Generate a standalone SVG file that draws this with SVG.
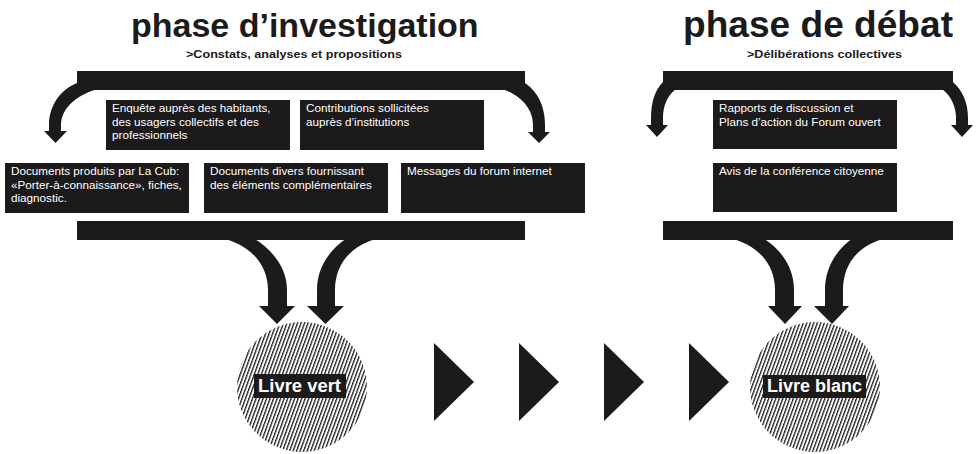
<svg xmlns="http://www.w3.org/2000/svg" width="979" height="454" viewBox="0 0 979 454">
<style>
.blk{fill:#1c1a1b}
.title{font-family:"Liberation Sans",Arial,sans-serif;font-weight:bold;fill:#1c1a1b}
.sub{font-family:"Liberation Sans",Arial,sans-serif;font-weight:bold;font-size:11.5px;fill:#1c1a1b}
.bt{font-family:"Liberation Sans",Arial,sans-serif;font-size:11.7px;fill:#ffffff}
.lbl{font-family:"Liberation Sans",Arial,sans-serif;font-weight:bold;font-size:18px;fill:#ffffff}
</style>
<defs>
<pattern id="hatch" patternUnits="userSpaceOnUse" width="3.3" height="10" patternTransform="rotate(20)">
<rect x="0" y="0" width="1.3" height="10" fill="#1c1a1b"/>
</pattern>
</defs>
<rect width="979" height="454" fill="#ffffff"/>

<g id="titles">
<text class="title" x="131" y="37" font-size="34">phase d’investigation</text>
<text class="sub" x="186" y="58" textLength="216" lengthAdjust="spacingAndGlyphs">&gt;Constats, analyses et propositions</text>
<text class="title" x="683" y="37" font-size="36.5" textLength="270" lengthAdjust="spacingAndGlyphs">phase de débat</text>
<text class="sub" x="747" y="58" textLength="155" lengthAdjust="spacingAndGlyphs">&gt;Délibérations collectives</text>
</g>

<g id="connectors">
<rect class="blk" x="77" y="71" width="448" height="19"/>
<rect class="blk" x="77" y="221" width="448" height="19"/>
<rect class="blk" x="663" y="71" width="290" height="19"/>
<rect class="blk" x="663" y="221" width="290" height="19"/>
<path class="blk" d="M77,83 C60,90 49,106 49,125 L49,131 L44,131 L55.5,143 L67,131 L61,131 L61,125 C61,110 74,96 97,89 L77,89 Z"/>
<path class="blk" d="M525,83 C538,92 545,106 545,125 L545,132 L550,132 L539,143 L528,132 L533,132 L533,125 C533,108 520,95 502,89 L525,89 Z"/>
<path class="blk" d="M663,82 C655,90 651,102 651,118 L651,125 L646,125 L657,137 L668,125 L663,125 L663,118 C663,106 667,96 676,89 L663,89 Z"/>
<path class="blk" d="M953,82 C962,90 968,102 968,118 L968,125 L973,125 L962,137 L951,125 L956,125 L956,118 C956,106 951,96 942,89 L953,89 Z"/>
<path class="blk" d="M220,238 C247,243 268,262 268,290 L268,306 L259,306 L277,324 L295,306 L287,306 L287,290 C287,268 273,250 253,238 Z"/>
<path class="blk" d="M381,238 C354,243 335,262 335,290 L335,306 L344,306 L325.5,324 L307,306 L317,306 L317,290 C317,268 329,250 347,238 Z"/>
<path class="blk" d="M728,238 C755,243 775,262 775,290 L775,306 L768,306 L785,324 L802,306 L794,306 L794,290 C794,268 782,250 763,238 Z"/>
<path class="blk" d="M888,238 C861,243 843,262 843,290 L843,306 L849,306 L832,324 L814,306 L825,306 L825,290 C825,268 836,250 853,238 Z"/>
<polygon class="blk" points="434,343 474,382 434,421"/>
<polygon class="blk" points="519,343 559,382 519,421"/>
<polygon class="blk" points="604,343 644,382 604,421"/>
<polygon class="blk" points="689,343 729,382 689,421"/>
</g>

<g id="n-enquete">
<rect class="blk" x="106" y="100" width="184" height="50"/>
<text class="bt" x="112" y="112">Enquête auprès des habitants,</text>
<text class="bt" x="112" y="125.5">des usagers collectifs et des</text>
<text class="bt" x="112" y="139">professionnels</text>
</g>
<g id="n-contributions">
<rect class="blk" x="300" y="100" width="184" height="50"/>
<text class="bt" x="306" y="112">Contributions sollicitées</text>
<text class="bt" x="306" y="125.5">auprès d’institutions</text>
</g>
<g id="n-documents-cub">
<rect class="blk" x="5" y="163" width="184" height="50"/>
<text class="bt" x="11" y="175">Documents produits par La Cub:</text>
<text class="bt" x="11" y="188.5">«Porter-à-connaissance», fiches,</text>
<text class="bt" x="11" y="202">diagnostic.</text>
</g>
<g id="n-documents-divers">
<rect class="blk" x="204" y="163" width="184" height="50"/>
<text class="bt" x="210" y="175">Documents divers fournissant</text>
<text class="bt" x="210" y="188.5">des éléments complémentaires</text>
</g>
<g id="n-messages">
<rect class="blk" x="401" y="163" width="184" height="50"/>
<text class="bt" x="407" y="175">Messages du forum internet</text>
</g>
<g id="n-rapports">
<rect class="blk" x="713" y="100" width="184" height="49"/>
<text class="bt" x="719" y="112">Rapports de discussion et</text>
<text class="bt" x="719" y="125.5">Plans d’action du Forum ouvert</text>
</g>
<g id="n-avis">
<rect class="blk" x="713" y="163" width="184" height="49"/>
<text class="bt" x="719" y="175">Avis de la conférence citoyenne</text>
</g>

<g id="n-livre-vert">
<circle cx="302" cy="387" r="65" fill="url(#hatch)"/>
<rect class="blk" x="254" y="374" width="92" height="24"/>
<text class="lbl" x="258" y="392" textLength="83" lengthAdjust="spacingAndGlyphs">Livre vert</text>
</g>
<g id="n-livre-blanc">
<circle cx="815" cy="387" r="65" fill="url(#hatch)"/>
<rect class="blk" x="763" y="375" width="103" height="23"/>
<text class="lbl" x="767" y="392" textLength="95" lengthAdjust="spacingAndGlyphs">Livre blanc</text>
</g>
</svg>
